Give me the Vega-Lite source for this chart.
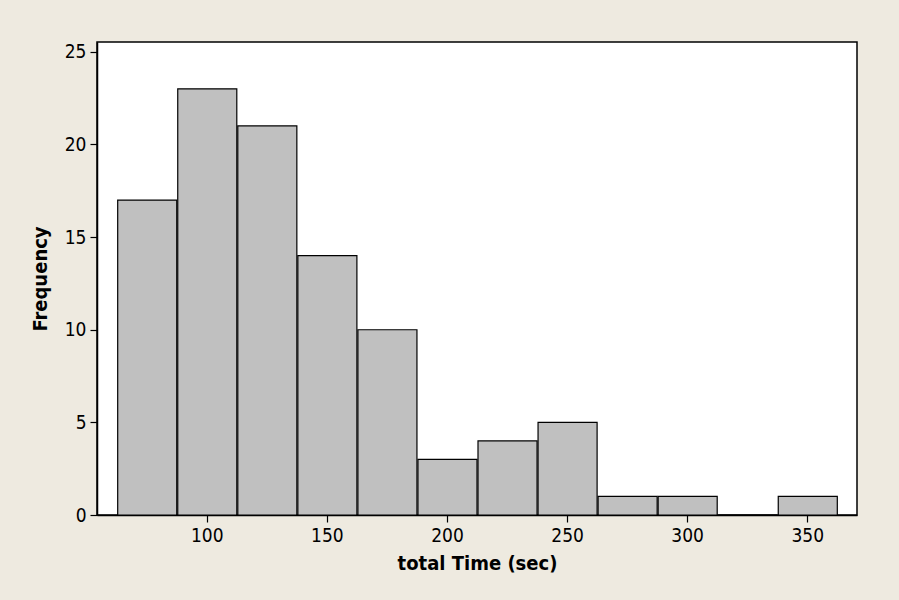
{
  "$schema": "https://vega.github.io/schema/vega-lite/v6.json",
  "width": 760,
  "height": 473,
  "autosize": "none",
  "padding": {"left": 97, "top": 42, "right": 42, "bottom": 85},
  "background": "#EEEAE0",
  "config": {
    "view": {"fill": "white", "stroke": "black", "strokeWidth": 1.5},
    "font": "DejaVu Sans Condensed",
    "axis": {
      "grid": false,
      "domainColor": "black",
      "domainWidth": 1.5,
      "tickColor": "black",
      "tickWidth": 1.2,
      "tickSize": 7,
      "labelColor": "black",
      "labelFont": "DejaVu Sans Condensed",
      "labelFontSize": 19,
      "titleColor": "black",
      "titleFont": "DejaVu Sans Condensed",
      "titleFontSize": 20,
      "titleFontWeight": "bold"
    }
  },
  "data": {
    "values": [
      {"start": 62.5, "end": 87.5, "count": 17},
      {"start": 87.5, "end": 112.5, "count": 23},
      {"start": 112.5, "end": 137.5, "count": 21},
      {"start": 137.5, "end": 162.5, "count": 14},
      {"start": 162.5, "end": 187.5, "count": 10},
      {"start": 187.5, "end": 212.5, "count": 3},
      {"start": 212.5, "end": 237.5, "count": 4},
      {"start": 237.5, "end": 262.5, "count": 5},
      {"start": 262.5, "end": 287.5, "count": 1},
      {"start": 287.5, "end": 312.5, "count": 1},
      {"start": 312.5, "end": 337.5, "count": 0},
      {"start": 337.5, "end": 362.5, "count": 1}
    ]
  },
  "mark": {"type": "bar", "fill": "#C0C0C0", "stroke": "black", "strokeWidth": 1.2},
  "encoding": {
    "x": {
      "field": "start",
      "type": "quantitative",
      "bin": "binned",
      "scale": {"domain": [54.3, 370.7], "nice": false, "zero": false},
      "axis": {"values": [100, 150, 200, 250, 300, 350], "title": "total Time (sec)", "labelPadding": 4, "titlePadding": 8, "labelFlush": false}
    },
    "x2": {"field": "end"},
    "y": {
      "field": "count",
      "type": "quantitative",
      "scale": {"domain": [0, 25.53], "nice": false},
      "axis": {"values": [0, 5, 10, 15, 20, 25], "title": "Frequency", "labelPadding": 4, "titlePadding": 14, "labelFlush": false}
    }
  }
}
